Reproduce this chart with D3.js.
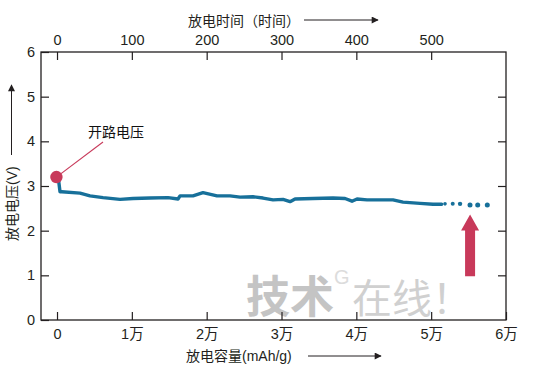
<!DOCTYPE html>
<html><head><meta charset="utf-8">
<script src="https://cdn.jsdelivr.net/npm/d3@7"></script>
<style>
html,body{margin:0;padding:0;background:#fff;}
svg{display:block;}
text{font-family:"Liberation Sans","Noto Sans CJK SC",Arial,sans-serif;}
</style></head>
<body>
<script>
// ---- data ----
const capacity = [174,400,630,3070,4410,6150,8420,10160,12430,14830,16170,16440,18170,19510,21380,23120,24460,26190,27530,28870,30200,31140,31810,34210,36880,38490,39420,40090,41430,43160,44900,46240,48510,50250,51410];
const voltage  = [3.18,2.87,2.87,2.84,2.78,2.74,2.70,2.72,2.73,2.74,2.71,2.78,2.78,2.85,2.78,2.78,2.75,2.76,2.73,2.69,2.70,2.65,2.71,2.72,2.73,2.72,2.66,2.71,2.69,2.69,2.69,2.64,2.61,2.59,2.59];
const tailCapacity = [51850,52880,53860,55190,56220,57500];
const tailVoltage  = [2.60,2.60,2.60,2.575,2.575,2.575];
const tailRadius   = [1.8,2.0,2.2,2.5,2.5,2.5];
const openCircuitVoltage = 3.2;
const openCircuitCapacity = -80;
const capTicks = [0,10000,20000,30000,40000,50000,60000];
const capTickLabels = ["0","1万","2万","3万","4万","5万","6万"];
const timeTicks = [0,100,200,300,400,500];
const voltTicks = [0,1,2,3,4,5,6];
const arrowCapacity = 55200;
const arrowFromV = 0.98, arrowToV = 2.36;

const W=534,H=367;
const L=41,R=506,T=52,B=320;
const ink="#231f20", blue="#17709a", red="#c8395a";

const svg=d3.select("body").append("svg").attr("width",W).attr("height",H);

const x=d3.scaleLinear().domain([-2140,60000]).range([L,R]);
const xt=d3.scaleLinear().domain([-21.4,600]).range([L,R]);
const y=d3.scaleLinear().domain([0,6]).range([B,T]);

// watermark
const wm=svg.append("g").attr("fill","#c4c4c4");
wm.append("text").attr("x",246).attr("y",313).attr("font-size",44).attr("font-weight","bold").text("技术");
wm.append("text").attr("x",334).attr("y",284).attr("font-size",20).attr("fill","#dcdcdc").text("G");
wm.append("text").attr("x",352).attr("y",313).attr("font-size",40).attr("fill","#d0d0d0").text("在线！");

// frame
svg.append("rect").attr("x",L).attr("y",T).attr("width",R-L).attr("height",B-T)
  .attr("fill","none").attr("stroke",ink).attr("stroke-width",1.3);

function style(g){
  g.select(".domain").remove();
  g.selectAll(".tick line").attr("stroke",ink).attr("stroke-width",1.2);
  g.selectAll(".tick text").attr("fill",ink).attr("font-size",14.5)
   .attr("font-family",'"Liberation Sans","Noto Sans CJK SC",Arial,sans-serif');
}
// bottom
svg.append("g").attr("transform",`translate(0,${B})`)
  .call(d3.axisBottom(x).tickValues(capTicks).tickFormat((d,i)=>capTickLabels[i]).tickSizeInner(-8).tickSizeOuter(0).tickPadding(9))
  .call(style);
// top
svg.append("g").attr("transform",`translate(0,${T})`)
  .call(d3.axisTop(xt).tickValues(timeTicks).tickFormat(d3.format("d")).tickSizeInner(-8).tickSizeOuter(0).tickPadding(7))
  .call(style);
// left
svg.append("g").attr("transform",`translate(${L},0)`)
  .call(d3.axisLeft(y).tickValues(voltTicks).tickFormat(d3.format("d")).tickSizeInner(-8).tickSizeOuter(0).tickPadding(6))
  .call(style);
// right
svg.append("g").attr("transform",`translate(${R},0)`)
  .call(d3.axisRight(y).tickValues(voltTicks.slice(1,6)).tickFormat("").tickSizeInner(-8).tickSizeOuter(0))
  .call(style);

// arrow marker
const defs=svg.append("defs");
defs.append("marker").attr("id","ah").attr("viewBox","0 0 10 10").attr("refX",9).attr("refY",5)
  .attr("markerWidth",9).attr("markerHeight",7).attr("markerUnits","userSpaceOnUse").attr("orient","auto")
  .append("path").attr("d","M0,0L10,5L0,10Z").attr("fill",ink);

// axis titles
svg.append("text").attr("x",188).attr("y",26).attr("font-size",14).attr("fill",ink).text("放电时间（时间）");
svg.append("line").attr("x1",304).attr("x2",378).attr("y1",20).attr("y2",20).attr("stroke",ink).attr("stroke-width",1).attr("marker-end","url(#ah)");
svg.append("text").attr("x",186).attr("y",361).attr("font-size",14).attr("fill",ink).text("放电容量(mAh/g)");
svg.append("line").attr("x1",308).attr("x2",381).attr("y1",356).attr("y2",356).attr("stroke",ink).attr("stroke-width",1).attr("marker-end","url(#ah)");
svg.append("text").attr("transform","translate(17,241) rotate(-90)").attr("font-size",14).attr("fill",ink).text("放电电压(V)");
svg.append("line").attr("x1",11.5).attr("x2",11.5).attr("y1",155).attr("y2",85).attr("stroke",ink).attr("stroke-width",1).attr("marker-end","url(#ah)");

// data line
const pts=capacity.map((c,i)=>[c,voltage[i]]);
svg.append("path").datum(pts)
  .attr("d",d3.line().x(d=>x(d[0])).y(d=>y(d[1])).curve(d3.curveLinear))
  .attr("fill","none").attr("stroke",blue).attr("stroke-width",3.4).attr("stroke-linejoin","round").attr("stroke-linecap","round");
svg.selectAll("circle.tail").data(tailCapacity).join("circle").attr("class","tail")
  .attr("cx",d=>x(d)).attr("cy",(d,i)=>y(tailVoltage[i])).attr("r",(d,i)=>tailRadius[i]).attr("fill",blue);

// open-circuit voltage annotation
svg.append("line").attr("x1",x(openCircuitCapacity)).attr("y1",y(openCircuitVoltage))
  .attr("x2",103).attr("y2",142).attr("stroke",red).attr("stroke-width",1.1);
svg.append("circle").attr("cx",x(openCircuitCapacity)).attr("cy",y(openCircuitVoltage)).attr("r",6.2).attr("fill",red);
svg.append("text").attr("x",88).attr("y",137).attr("font-size",14).attr("fill","#111").text("开路电压");

// red arrow
const ax=x(arrowCapacity), yb=y(arrowFromV), yt=y(arrowToV), yh=yt+16;
svg.append("path").attr("d",`M${ax-5},${yb}L${ax-5},${yh}L${ax-9},${yh}L${ax},${yt}L${ax+9},${yh}L${ax+5},${yh}L${ax+5},${yb}Z`)
  .attr("fill",red);
</script>
</body></html>
